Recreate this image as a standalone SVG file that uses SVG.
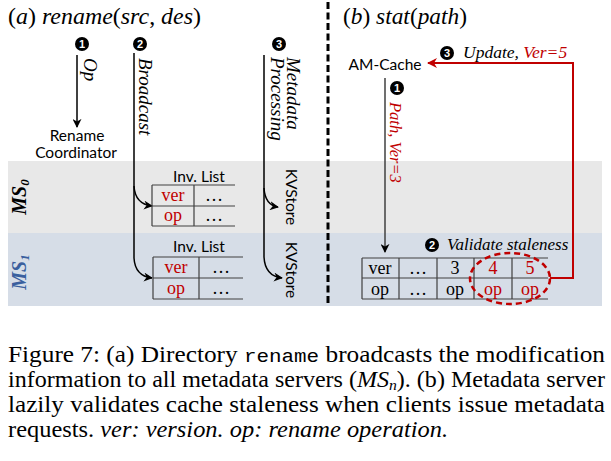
<svg xmlns="http://www.w3.org/2000/svg" width="611" height="461" viewBox="0 0 611 461">
<style>
.sans{font-family:Lato,"Open Sans","Liberation Sans",sans-serif;font-size:15.5px;fill:#000}
.ser{font-family:"Liberation Serif","DejaVu Serif",serif;fill:#000}
.it{font-style:italic}
.red{fill:#c00000}
.cell{font-family:"Liberation Serif",serif;font-size:18px;text-anchor:middle}
.num{font-family:"Liberation Sans",sans-serif;font-size:11px;font-weight:bold;fill:#fff;text-anchor:middle}
.ln{fill:none;stroke:#000;stroke-width:1.5}
.tb{fill:none;stroke:#404040;stroke-width:1.2}
.cap{font-family:"Liberation Serif",serif;font-size:23px;fill:#000}
</style>
<defs>
<marker id="ah" viewBox="0 0 10 10" refX="9" refY="5" markerWidth="9" markerHeight="9" markerUnits="userSpaceOnUse" orient="auto">
<path d="M0,0 L10,5 L0,10 L3,5 z" fill="#000"/>
</marker>
<marker id="ahr" viewBox="0 0 10 10" refX="9" refY="5" markerWidth="10" markerHeight="10" markerUnits="userSpaceOnUse" orient="auto">
<path d="M0,0 L10,5 L0,10 L3,5 z" fill="#c00000"/>
</marker>
</defs>

<!-- bands -->
<g id="bands">
<rect x="8" y="161" width="594" height="72" fill="#e8e8e8"/>
<rect x="8" y="233" width="594" height="73" fill="#d6dde7"/>
</g>

<!-- divider -->
<line x1="328" y1="2" x2="328" y2="306" stroke="#000" stroke-width="3" stroke-dasharray="7 3.5"/>

<!-- titles -->
<g id="titles">
<text x="8" y="24" class="ser" font-size="23.5" textLength="193" lengthAdjust="spacingAndGlyphs">(<tspan class="it">a</tspan>) <tspan class="it">rename</tspan>(<tspan class="it">src</tspan>, <tspan class="it">des</tspan>)</text>
<text x="343" y="24" class="ser" font-size="23.5" textLength="124" lengthAdjust="spacingAndGlyphs">(<tspan class="it">b</tspan>) <tspan class="it">stat</tspan>(<tspan class="it">path</tspan>)</text>
</g>

<!-- MS labels -->
<g id="ms-labels">
<text transform="translate(26,197) rotate(-90)" text-anchor="middle" class="ser it" font-size="20" font-weight="bold">MS<tspan font-size="13" dy="3">0</tspan></text>
<text transform="translate(26,272) rotate(-90)" text-anchor="middle" class="ser it" font-size="20" font-weight="bold" style="fill:#3a5f9e">MS<tspan font-size="13" dy="3">1</tspan></text>
</g>

<!-- step markers -->
<g id="markers">
<circle cx="82" cy="44" r="7"/><text x="82" y="48" class="num">1</text>
<circle cx="140" cy="44" r="7"/><text x="140" y="48" class="num">2</text>
<circle cx="279" cy="44" r="7"/><text x="279" y="48" class="num">3</text>
<circle cx="397" cy="88" r="7"/><text x="397" y="92" class="num">1</text>
<circle cx="432" cy="245" r="7"/><text x="432" y="249" class="num">2</text>
<circle cx="447" cy="53" r="7"/><text x="447" y="57" class="num">3</text>
</g>

<!-- connectors -->
<g id="connectors">
<path class="ln" d="M77,55 V127" marker-end="url(#ah)"/>
<path class="ln" d="M134,53 V258 Q135,276 152,278" marker-end="url(#ah)"/>
<path class="ln" d="M134,186 Q135,204 152,206" marker-end="url(#ah)"/>
<path class="ln" d="M264,55 V257 Q265,276 282,278" marker-end="url(#ah)"/>
<path class="ln" d="M264,188 Q265,205 278,207" marker-end="url(#ah)"/>
<path d="M385,78 V252" fill="none" stroke="#404040" stroke-width="1.5" marker-end="url(#ah)"/>
<path d="M550,278 H573 V63 H428" fill="none" stroke="#c00000" stroke-width="2" marker-end="url(#ahr)"/>
</g>

<!-- connector labels -->
<g id="labels">
<text transform="translate(84,58) rotate(90)" class="ser it" font-size="19">Op</text>
<text transform="translate(139,58) rotate(90)" class="ser it" font-size="19">Broadcast</text>
<text transform="translate(287,57) rotate(90)" class="ser it" font-size="19">Metadata</text>
<text transform="translate(271,57) rotate(90)" class="ser it" font-size="19">Processing</text>
<text transform="translate(390,102) rotate(90)" class="ser it red" font-size="16.5">Path, Ver=3</text>
<text x="463" y="58" class="ser it" font-size="17.5">Update, <tspan class="red">Ver=5</tspan></text>
<text x="447" y="250" class="ser it" font-size="17">Validate staleness</text>
</g>

<!-- Rename Coordinator -->
<g id="rename-coordinator">
<text x="77" y="141" class="sans" text-anchor="middle" font-size="16.5">Rename</text>
<text x="76" y="158" class="sans" text-anchor="middle" font-size="16.5">Coordinator</text>
</g>

<!-- AM-Cache -->
<g id="am-cache">
<text x="385" y="70" class="sans" text-anchor="middle">AM-Cache</text>
</g>

<!-- Inv list MS0 -->
<g id="inv-list-0">
<text x="199" y="182" class="sans" text-anchor="middle" font-size="16.5">Inv. List</text>
<path class="tb" d="M152,185 H235 M152,206 H235 M152,226 H235 M152,185 V226 M194,185 V226"/>
<text x="173" y="201" class="cell red">ver</text>
<text x="214" y="201" class="cell">…</text>
<text x="173" y="221" class="cell red">op</text>
<text x="214" y="221" class="cell">…</text>
</g>

<!-- Inv list MS1 -->
<g id="inv-list-1">
<text x="199" y="252" class="sans" text-anchor="middle" font-size="16.5">Inv. List</text>
<path class="tb" d="M153,257 H243 M153,278 H243 M153,299 H243 M153,257 V299 M199,257 V299"/>
<text x="176" y="273" class="cell red">ver</text>
<text x="221" y="273" class="cell">…</text>
<text x="176" y="294" class="cell red">op</text>
<text x="221" y="294" class="cell">…</text>
</g>

<!-- KVStores -->
<g id="kvstore-0">
<text transform="translate(286,197) rotate(90)" class="sans" text-anchor="middle" font-size="16">KVStore</text>
</g>
<g id="kvstore-1">
<text transform="translate(286,270) rotate(90)" class="sans" text-anchor="middle" font-size="16">KVStore</text>
</g>

<!-- version table -->
<g id="version-table">
<path class="tb" d="M362,258 H548 M362,278 H548 M362,299 H548 M362,258 V299 M399,258 V299 M437,258 V299 M474,258 V299 M512,258 V299"/>
<text x="380" y="274" class="cell">ver</text>
<text x="418" y="274" class="cell">…</text>
<text x="455" y="274" class="cell">3</text>
<text x="493" y="274" class="cell red">4</text>
<text x="530" y="274" class="cell red">5</text>
<text x="380" y="295" class="cell">op</text>
<text x="418" y="295" class="cell">…</text>
<text x="455" y="295" class="cell">op</text>
<text x="493" y="295" class="cell red">op</text>
<text x="530" y="295" class="cell red">op</text>
<ellipse cx="510" cy="278.5" rx="40" ry="25.5" fill="none" stroke="#c00000" stroke-width="2.5" stroke-dasharray="6 4"/>
</g>

<!-- caption -->
<g id="caption">
<text x="8" y="362" class="cap" textLength="597" lengthAdjust="spacingAndGlyphs">Figure 7:  (a) Directory <tspan font-family="Liberation Mono,monospace" font-size="19">rename</tspan> broadcasts the modification</text>
<text x="8" y="387" class="cap" textLength="597" lengthAdjust="spacingAndGlyphs">information to all metadata servers (<tspan font-style="italic">MS</tspan><tspan font-style="italic" font-size="15" dy="3">n</tspan><tspan dy="-3">). (b) Metadata server</tspan></text>
<text x="8" y="412" class="cap" textLength="597" lengthAdjust="spacingAndGlyphs">lazily validates cache staleness when clients issue metadata</text>
<text x="8" y="437" class="cap" textLength="440" lengthAdjust="spacingAndGlyphs">requests. <tspan font-style="italic">ver: version. op: rename operation.</tspan></text>
</g>
</svg>
